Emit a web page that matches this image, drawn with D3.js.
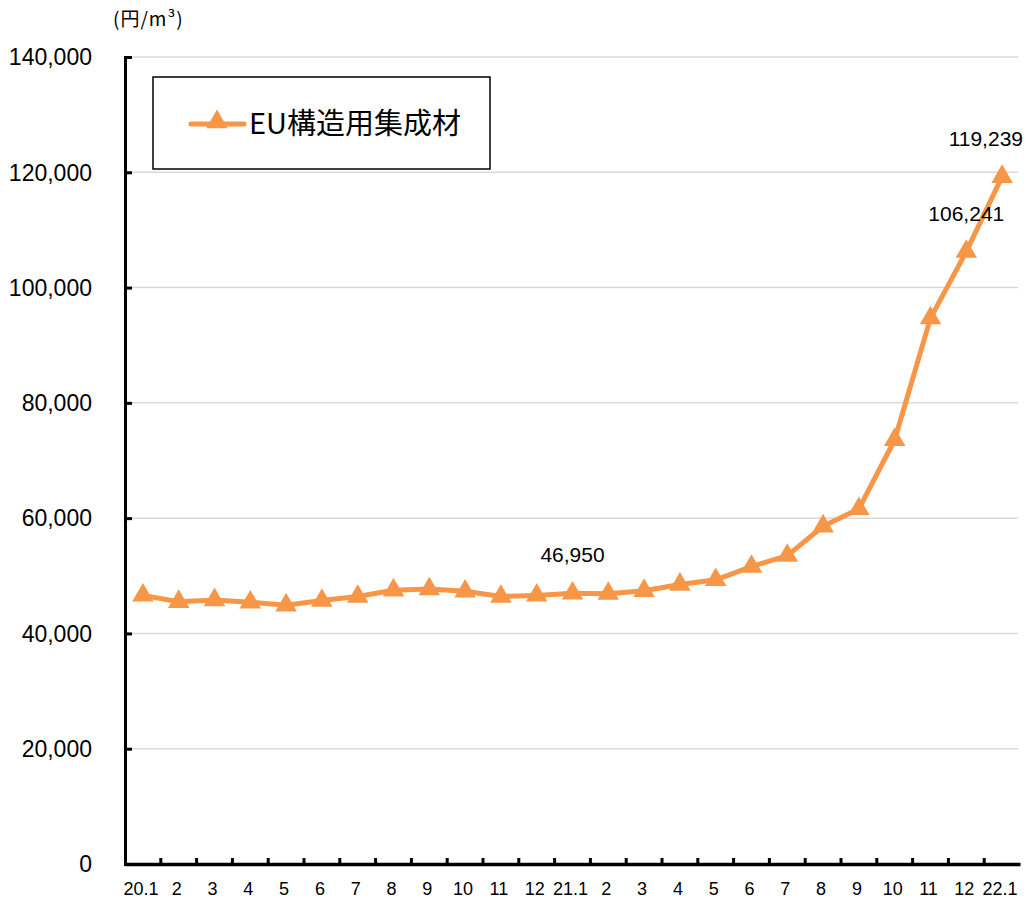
<!DOCTYPE html>
<html>
<head>
<meta charset="utf-8">
<script src="https://cdn.jsdelivr.net/npm/d3@7"></script>
<style>
  body { margin: 0; background: #fff; }
  svg text { font-family: "Liberation Sans", Arial, sans-serif; fill: #000; }
</style>
</head>
<body>
<div id="chart"></div>
<script>
// month labels (20.1 .. 22.1)
const months = ["20.1", "2", "3", "4", "5", "6", "7", "8", "9", "10", "11", "12",
  "21.1", "2", "3", "4", "5", "6", "7", "8", "9", "10", "11", "12", "22.1"];

// EU structural glulam price (yen / m3)
const prices = [46600, 45500, 45800, 45400, 44900, 45700, 46400, 47500, 47700, 47300, 46400, 46600,
  46950, 46900, 47400, 48500, 49300, 51600, 53500, 58600, 61600, 73600, 94700, 106241, 119239];

// points that carry a value label
const labelled = [12, 23, 24];

const yTicks = [0, 20000, 40000, 60000, 80000, 100000, 120000, 140000];
const seriesName = "EU構造用集成材";
const unitLabel = "(円/m³)";

const width = 1025;
const height = 902;
const margin = { top: 57, right: 5, bottom: 38, left: 125 };
const orange = "#f79646";

const svg = d3.select("#chart")
  .append("svg")
  .attr("width", width)
  .attr("height", height);

const x = d3.scaleBand()
  .domain(d3.range(months.length))
  .range([margin.left, width - margin.right]);

const y = d3.scaleLinear()
  .domain([0, 140000])
  .range([height - margin.bottom, margin.top]);

const cx = i => x(i) + x.bandwidth() / 2;

// gridlines
svg.append("g")
  .selectAll("line")
  .data(yTicks.filter(d => d > 0))
  .enter()
  .append("line")
  .attr("x1", margin.left)
  .attr("x2", width - margin.right - 2)
  .attr("y1", d => y(d))
  .attr("y2", d => y(d))
  .attr("stroke", "#d9d9d9")
  .attr("stroke-width", 1.5);

// y axis
const yAxis = svg.append("g")
  .attr("transform", `translate(${margin.left},0)`)
  .call(d3.axisRight(y).tickValues(yTicks).tickSize(7).tickFormat(""));
yAxis.select(".domain").attr("stroke", "#000").attr("stroke-width", 3);
yAxis.selectAll(".tick line").attr("stroke", "#000").attr("stroke-width", 3);

svg.append("g")
  .selectAll("text")
  .data(yTicks)
  .enter()
  .append("text")
  .attr("x", 92)
  .attr("y", d => y(d))
  .attr("dy", "0.36em")
  .attr("text-anchor", "end")
  .attr("font-size", 23)
  .text(d3.format(","));

// x axis (ticks between months, pointing up)
const xAxis = svg.append("g")
  .attr("transform", `translate(0,${height - margin.bottom})`)
  .call(d3.axisTop(x).tickSize(0).tickFormat(""));
xAxis.select(".domain").attr("stroke", "#000").attr("stroke-width", 3.5);
xAxis.selectAll(".tick").remove();

svg.append("g")
  .selectAll("line")
  .data(d3.range(1, months.length))
  .enter()
  .append("line")
  .attr("x1", i => x(i))
  .attr("x2", i => x(i))
  .attr("y1", height - margin.bottom)
  .attr("y2", height - margin.bottom - 6)
  .attr("stroke", "#000")
  .attr("stroke-width", 3);

svg.append("g")
  .selectAll("text")
  .data(months)
  .enter()
  .append("text")
  .attr("x", (d, i) => cx(i) - 2)
  .attr("y", 895)
  .attr("text-anchor", "middle")
  .attr("font-size", 18)
  .text(d => d);

// unit
svg.append("text")
  .attr("x", 113)
  .attr("y", 26)
  .attr("font-size", 19)
  .attr("letter-spacing", 1)
  .style("font-family", "'Noto Sans CJK JP', sans-serif")
  .text(unitLabel);

// line
const line = d3.line()
  .x((d, i) => cx(i))
  .y(d => y(d));

svg.append("path")
  .datum(prices)
  .attr("fill", "none")
  .attr("stroke", orange)
  .attr("stroke-width", 5)
  .attr("stroke-linejoin", "round")
  .attr("d", line);

const tri = d3.symbol().type(d3.symbolTriangle).size(200);

svg.append("g")
  .selectAll("path")
  .data(prices)
  .enter()
  .append("path")
  .attr("transform", (d, i) => `translate(${cx(i)},${y(d)})`)
  .attr("d", tri)
  .attr("fill", orange);

// value labels
svg.append("g")
  .selectAll("text")
  .data(labelled)
  .enter()
  .append("text")
  .attr("x", i => i === months.length - 1 ? width - 2 : cx(i))
  .attr("y", i => y(prices[i]) - 31)
  .attr("text-anchor", i => i === months.length - 1 ? "end" : "middle")
  .attr("font-size", 21)
  .text(i => d3.format(",")(prices[i]));

// legend
const legend = svg.append("g");
legend.append("rect")
  .attr("x", 153)
  .attr("y", 77)
  .attr("width", 337)
  .attr("height", 92)
  .attr("fill", "#fff")
  .attr("stroke", "#000")
  .attr("stroke-width", 1.5);
legend.append("line")
  .attr("x1", 191)
  .attr("x2", 244)
  .attr("y1", 124)
  .attr("y2", 124)
  .attr("stroke", orange)
  .attr("stroke-width", 5)
  .attr("stroke-linecap", "round");
legend.append("path")
  .attr("transform", "translate(217,122)")
  .attr("d", tri)
  .attr("fill", orange);
legend.append("text")
  .attr("x", 249)
  .attr("y", 124)
  .attr("dy", "0.35em")
  .attr("font-size", 29)
  .style("font-family", "'Noto Sans CJK JP', sans-serif")
  .text(seriesName);
</script>
</body>
</html>
